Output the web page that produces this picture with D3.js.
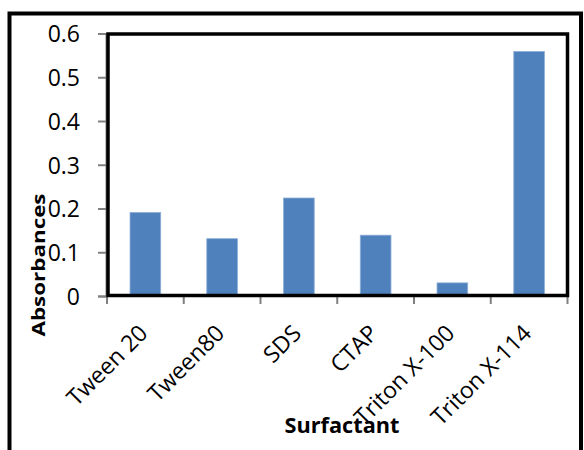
<!DOCTYPE html>
<html><head><meta charset="utf-8">
<script src="https://cdn.jsdelivr.net/npm/d3@7"></script>
<style>body{margin:0;background:#fff}svg{display:block}</style>
</head><body>
<svg id="c" width="584" height="450"></svg>
<script>
const categories = ["Tween 20","Tween80","SDS","CTAP","Triton X-100","Triton X-114"];
const absorbances = [0.191,0.131,0.224,0.139,0.030,0.559];
const yTicks = [0,0.1,0.2,0.3,0.4,0.5,0.6];
const yTickLabels = ["0","0.1","0.2","0.3","0.4","0.5","0.6"];

const svg = d3.select("#c");
const font = "'Open Sans', sans-serif";
const L=107, R=567.5, T=33.5, B=296;

// outer border
svg.append("path").attr("d","M9.5,460 V13.5 H581 V460").attr("fill","none").attr("stroke","#000").attr("stroke-width",4);

const x = d3.scaleBand().domain(categories).range([L,R]).paddingInner(0.6).paddingOuter(0.3);
const xb = d3.scaleBand().domain(categories).range([L,R]);
const y = d3.scaleLinear().domain([0,0.6]).range([B,T]);

// bars
svg.append("g").selectAll("rect").data(categories).join("rect")
  .attr("x",d=>x(d)).attr("width",x.bandwidth())
  .attr("y",(d,i)=>y(absorbances[i])).attr("height",(d,i)=>B-y(absorbances[i]))
  .attr("fill","#4F81BD").attr("stroke","#8fb0d8").attr("stroke-width",0.8);

// y axis ticks
const ya = d3.axisLeft(y).tickValues(yTicks).tickFormat((d,i)=>yTickLabels[i]).tickSize(8).tickPadding(18);
const gy = svg.append("g").attr("transform",`translate(${L-1},0)`).call(ya);
gy.select(".domain").attr("stroke","#808080").attr("stroke-width",2);
gy.selectAll(".tick line").attr("stroke","#808080").attr("stroke-width",2);
gy.selectAll("text").attr("font-family",font).attr("font-size",23).attr("fill","#000").attr("dy","0.36em");

// x axis ticks at category boundaries
const gx = svg.append("g").attr("transform",`translate(0,${B})`);
gx.selectAll("line").data(categories.concat(["_end"])).join("line")
  .attr("x1",(d,i)=>i<categories.length?xb(d):R).attr("x2",(d,i)=>i<categories.length?xb(d):R)
  .attr("y1",0).attr("y2",8).attr("stroke","#808080").attr("stroke-width",2);

// plot frame
svg.append("rect").attr("x",L+1).attr("y",T+0.5).attr("width",R-L-1).attr("height",B-T-1)
  .attr("fill","none").attr("stroke","#000").attr("stroke-width",3.5);

// x axis title (drawn first so labels overlap it as in the reference)
svg.append("text").attr("x",342).attr("y",433).attr("text-anchor","middle")
  .attr("font-family",font).attr("font-weight","bold").attr("font-size",21)
  .attr("textLength",115).attr("lengthAdjust","spacingAndGlyphs").text("Surfactant");

// x labels
svg.append("g").selectAll("text").data(categories).join("text")
  .attr("transform",d=>`translate(${xb(d)+xb.bandwidth()/2-2},${B+33}) rotate(-45)`)
  .attr("text-anchor","end").attr("font-family",font).attr("font-size",23).attr("fill","#000")
  .attr("dy","0.35em").text(d=>d);

// y axis title
svg.append("text").attr("transform","translate(45,265) rotate(-90)").attr("text-anchor","middle")
  .attr("font-family",font).attr("font-weight","bold").attr("font-size",18)
  .attr("textLength",143).attr("lengthAdjust","spacingAndGlyphs").text("Absorbances");
</script>
</body></html>
